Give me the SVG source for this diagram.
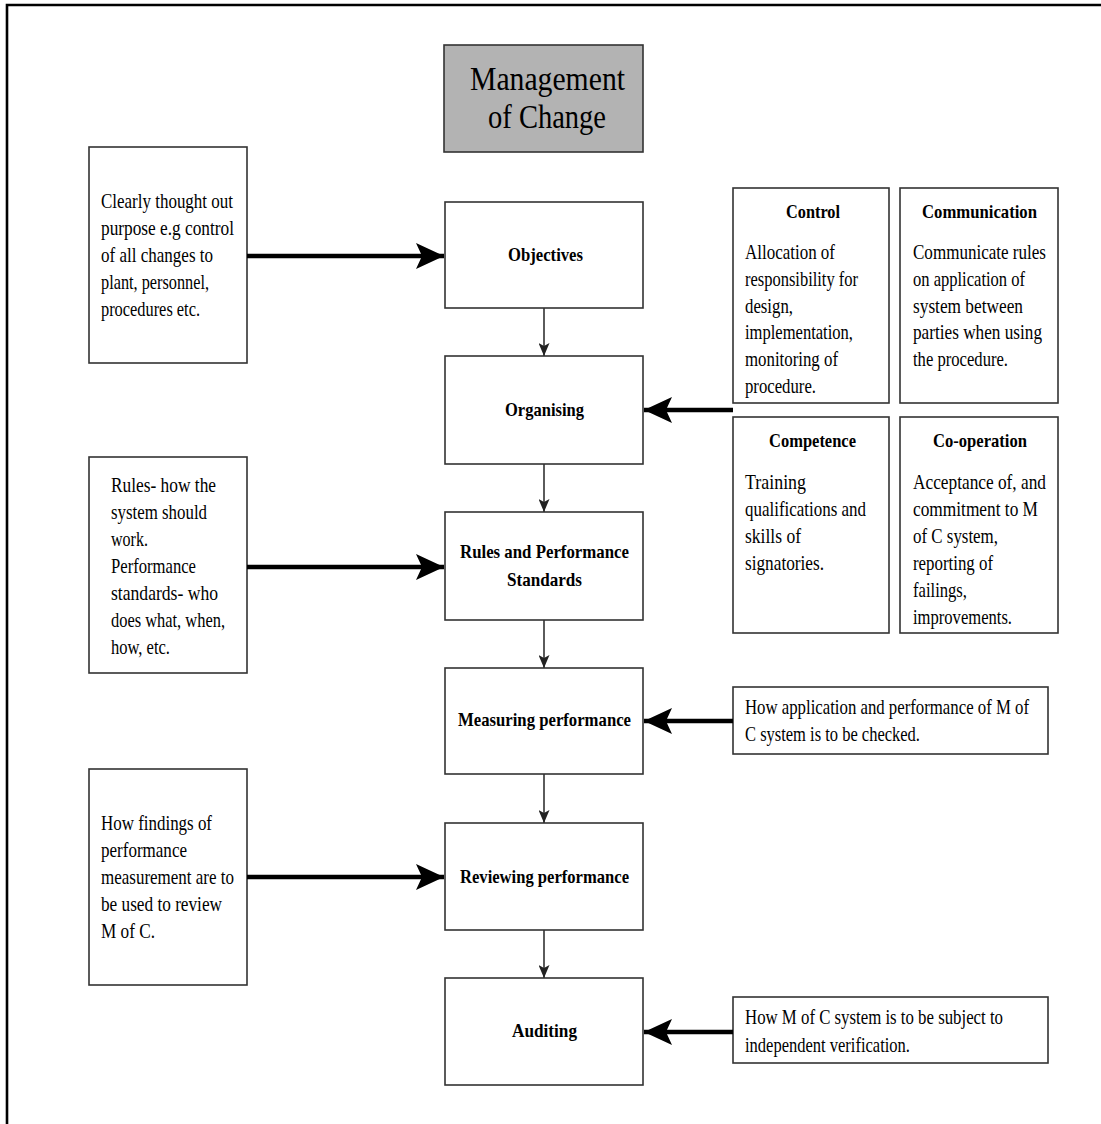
<svg xmlns="http://www.w3.org/2000/svg" width="1101" height="1124" viewBox="0 0 1101 1124">
<style>
.box{fill:#fff;stroke:#333;stroke-width:1.6}
.title{fill:#b3b3b3;stroke:#333;stroke-width:1.6}
text{font-family:"Liberation Serif","Times New Roman",serif;fill:#000}
.t{font-size:21px}
.b{font-size:19px;font-weight:bold}
.h{font-size:34px}
.thick{stroke:#000;stroke-width:4.5;fill:none}
.thin{stroke:#333;stroke-width:1.6;fill:none}
</style>
<defs>
<marker id="big" markerUnits="userSpaceOnUse" markerWidth="28" markerHeight="26" refX="28" refY="13" orient="auto" viewBox="0 0 28 26">
<path d="M0,0 L28,13 L0,26 L6,13 Z" fill="#000"/>
</marker>
<marker id="small" markerUnits="userSpaceOnUse" markerWidth="13" markerHeight="11" refX="13" refY="5.5" orient="auto" viewBox="0 0 13 11">
<path d="M0,0 L13,5.5 L0,11 L3,5.5 Z" fill="#222"/>
</marker>
</defs>
<rect width="1101" height="1124" fill="#fff"/>
<path d="M7,1130 L7,5 L1110,5" fill="none" stroke="#000" stroke-width="2.6"/>

<g id="title-node">
<rect class="title" x="444" y="45" width="199" height="107"/>
<text class="h" x="470" y="90" textLength="155" lengthAdjust="spacingAndGlyphs">Management</text>
<text class="h" x="488" y="128" textLength="118" lengthAdjust="spacingAndGlyphs">of Change</text>
</g>

<g id="objectives">
<rect class="box" x="445" y="202" width="198" height="106"/>
<text class="b" x="508" y="261" textLength="75" lengthAdjust="spacingAndGlyphs">Objectives</text>
</g>
<g id="organising">
<rect class="box" x="445" y="356" width="198" height="108"/>
<text class="b" x="505" y="416" textLength="79" lengthAdjust="spacingAndGlyphs">Organising</text>
</g>
<g id="rules">
<rect class="box" x="445" y="512" width="198" height="108"/>
<text class="b" x="460" y="558" textLength="169" lengthAdjust="spacingAndGlyphs">Rules and Performance</text>
<text class="b" x="507" y="586" textLength="75" lengthAdjust="spacingAndGlyphs">Standards</text>
</g>
<g id="measuring">
<rect class="box" x="445" y="668" width="198" height="106"/>
<text class="b" x="458" y="726" textLength="173" lengthAdjust="spacingAndGlyphs">Measuring performance</text>
</g>
<g id="reviewing">
<rect class="box" x="445" y="823" width="198" height="107"/>
<text class="b" x="460" y="883" textLength="169" lengthAdjust="spacingAndGlyphs">Reviewing performance</text>
</g>
<g id="auditing">
<rect class="box" x="445" y="978" width="198" height="107"/>
<text class="b" x="512" y="1037" textLength="65" lengthAdjust="spacingAndGlyphs">Auditing</text>
</g>

<g id="note-objectives">
<rect class="box" x="89" y="147" width="158" height="216"/>
<text class="t" x="101" y="208" textLength="132" lengthAdjust="spacingAndGlyphs">Clearly thought out</text>
<text class="t" x="101" y="235" textLength="133" lengthAdjust="spacingAndGlyphs">purpose e.g control</text>
<text class="t" x="101" y="262" textLength="112" lengthAdjust="spacingAndGlyphs">of all changes to</text>
<text class="t" x="101" y="289" textLength="108" lengthAdjust="spacingAndGlyphs">plant, personnel,</text>
<text class="t" x="101" y="316" textLength="99" lengthAdjust="spacingAndGlyphs">procedures etc.</text>
</g>
<g id="note-rules">
<rect class="box" x="89" y="457" width="158" height="216"/>
<text class="t" x="111" y="492" textLength="105" lengthAdjust="spacingAndGlyphs">Rules- how the</text>
<text class="t" x="111" y="519" textLength="96" lengthAdjust="spacingAndGlyphs">system should</text>
<text class="t" x="111" y="546" textLength="37" lengthAdjust="spacingAndGlyphs">work.</text>
<text class="t" x="111" y="573" textLength="85" lengthAdjust="spacingAndGlyphs">Performance</text>
<text class="t" x="111" y="600" textLength="107" lengthAdjust="spacingAndGlyphs">standards- who</text>
<text class="t" x="111" y="627" textLength="114" lengthAdjust="spacingAndGlyphs">does what, when,</text>
<text class="t" x="111" y="654" textLength="59" lengthAdjust="spacingAndGlyphs">how, etc.</text>
</g>
<g id="note-reviewing">
<rect class="box" x="89" y="769" width="158" height="216"/>
<text class="t" x="101" y="830" textLength="111" lengthAdjust="spacingAndGlyphs">How findings of</text>
<text class="t" x="101" y="857" textLength="86" lengthAdjust="spacingAndGlyphs">performance</text>
<text class="t" x="101" y="884" textLength="133" lengthAdjust="spacingAndGlyphs">measurement are to</text>
<text class="t" x="101" y="911" textLength="121" lengthAdjust="spacingAndGlyphs">be used to review</text>
<text class="t" x="101" y="938" textLength="54" lengthAdjust="spacingAndGlyphs">M of C.</text>
</g>

<g id="control">
<rect class="box" x="733" y="188" width="156" height="215"/>
<text class="b" x="786" y="218" textLength="54" lengthAdjust="spacingAndGlyphs">Control</text>
<text class="t" x="745" y="259" textLength="90" lengthAdjust="spacingAndGlyphs">Allocation of</text>
<text class="t" x="745" y="286" textLength="113" lengthAdjust="spacingAndGlyphs">responsibility for</text>
<text class="t" x="745" y="313" textLength="48" lengthAdjust="spacingAndGlyphs">design,</text>
<text class="t" x="745" y="339" textLength="108" lengthAdjust="spacingAndGlyphs">implementation,</text>
<text class="t" x="745" y="366" textLength="93" lengthAdjust="spacingAndGlyphs">monitoring of</text>
<text class="t" x="745" y="393" textLength="71" lengthAdjust="spacingAndGlyphs">procedure.</text>
</g>
<g id="communication">
<rect class="box" x="900" y="188" width="158" height="215"/>
<text class="b" x="922" y="218" textLength="115" lengthAdjust="spacingAndGlyphs">Communication</text>
<text class="t" x="913" y="259" textLength="133" lengthAdjust="spacingAndGlyphs">Communicate rules</text>
<text class="t" x="913" y="286" textLength="112" lengthAdjust="spacingAndGlyphs">on application of</text>
<text class="t" x="913" y="313" textLength="110" lengthAdjust="spacingAndGlyphs">system between</text>
<text class="t" x="913" y="339" textLength="129" lengthAdjust="spacingAndGlyphs">parties when using</text>
<text class="t" x="913" y="366" textLength="95" lengthAdjust="spacingAndGlyphs">the procedure.</text>
</g>
<g id="competence">
<rect class="box" x="733" y="417" width="156" height="216"/>
<text class="b" x="769" y="447" textLength="87" lengthAdjust="spacingAndGlyphs">Competence</text>
<text class="t" x="745" y="489" textLength="61" lengthAdjust="spacingAndGlyphs">Training</text>
<text class="t" x="745" y="516" textLength="121" lengthAdjust="spacingAndGlyphs">qualifications and</text>
<text class="t" x="745" y="543" textLength="56" lengthAdjust="spacingAndGlyphs">skills of</text>
<text class="t" x="745" y="570" textLength="79" lengthAdjust="spacingAndGlyphs">signatories.</text>
</g>
<g id="cooperation">
<rect class="box" x="900" y="417" width="158" height="216"/>
<text class="b" x="933" y="447" textLength="94" lengthAdjust="spacingAndGlyphs">Co-operation</text>
<text class="t" x="913" y="489" textLength="133" lengthAdjust="spacingAndGlyphs">Acceptance of, and</text>
<text class="t" x="913" y="516" textLength="125" lengthAdjust="spacingAndGlyphs">commitment to M</text>
<text class="t" x="913" y="543" textLength="85" lengthAdjust="spacingAndGlyphs">of C system,</text>
<text class="t" x="913" y="570" textLength="80" lengthAdjust="spacingAndGlyphs">reporting of</text>
<text class="t" x="913" y="597" textLength="54" lengthAdjust="spacingAndGlyphs">failings,</text>
<text class="t" x="913" y="624" textLength="99" lengthAdjust="spacingAndGlyphs">improvements.</text>
</g>
<g id="note-measuring">
<rect class="box" x="733" y="687" width="315" height="67"/>
<text class="t" x="745" y="714" textLength="284" lengthAdjust="spacingAndGlyphs">How application and performance of M of</text>
<text class="t" x="745" y="741" textLength="175" lengthAdjust="spacingAndGlyphs">C system is to be checked.</text>
</g>
<g id="note-auditing">
<rect class="box" x="733" y="997" width="315" height="66"/>
<text class="t" x="745" y="1024" textLength="258" lengthAdjust="spacingAndGlyphs">How M of C system is to be subject to</text>
<text class="t" x="745" y="1052" textLength="165" lengthAdjust="spacingAndGlyphs">independent verification.</text>
</g>

<g id="connectors">
<line class="thin" x1="544" y1="308" x2="544" y2="356" marker-end="url(#small)"/>
<line class="thin" x1="544" y1="464" x2="544" y2="512" marker-end="url(#small)"/>
<line class="thin" x1="544" y1="620" x2="544" y2="668" marker-end="url(#small)"/>
<line class="thin" x1="544" y1="774" x2="544" y2="823" marker-end="url(#small)"/>
<line class="thin" x1="544" y1="930" x2="544" y2="978" marker-end="url(#small)"/>
<line class="thick" x1="247" y1="256" x2="444" y2="256" marker-end="url(#big)"/>
<line class="thick" x1="247" y1="567" x2="444" y2="567" marker-end="url(#big)"/>
<line class="thick" x1="247" y1="877" x2="444" y2="877" marker-end="url(#big)"/>
<line class="thick" x1="733" y1="410" x2="644" y2="410" marker-end="url(#big)"/>
<line class="thick" x1="733" y1="721" x2="644" y2="721" marker-end="url(#big)"/>
<line class="thick" x1="733" y1="1032" x2="644" y2="1032" marker-end="url(#big)"/>
</g>
</svg>
